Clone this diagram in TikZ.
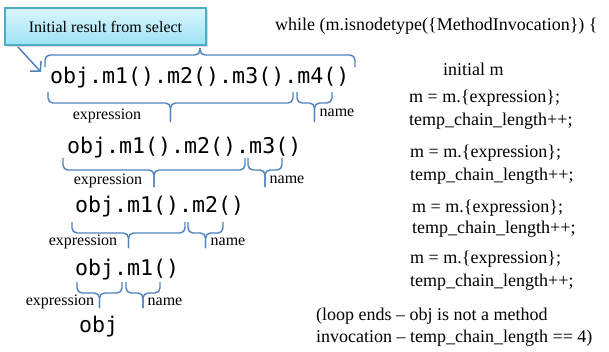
\documentclass[tikz,border=0pt]{standalone}
\usepackage{fontspec}
\setmainfont{Liberation Serif}
\setmonofont{DejaVu Sans Mono}
\usetikzlibrary{arrows.meta,shadows}
\definecolor{braceblue}{RGB}{79,129,189}
\definecolor{calloutedge}{RGB}{75,172,198}
\definecolor{callouttop}{RGB}{218,246,253}
\definecolor{calloutbot}{RGB}{158,226,245}
\tikzset{
  bracepen/.style={draw=braceblue, line width=1.4pt, rounded corners=5pt},
  code/.style={font=\fontsize{21.6}{24}\ttfamily, inner sep=0pt, anchor=base west},
  lbl/.style={font=\fontsize{16}{18}\selectfont, inner sep=0pt, anchor=mid},
  stmt/.style={font=\fontsize{18}{20}\selectfont, inner sep=0pt, anchor=mid west},
}
\newcommand{\codebrace}[5]{%
  \draw[bracepen] (#1,#3) |- ({(#1+#2)/2},#4) -- ({(#1+#2)/2},#5);
  \draw[bracepen] (#2,#3) |- ({(#1+#2)/2},#4) -- ({(#1+#2)/2},#5);}
\begin{document}
\begin{tikzpicture}[x=1pt,y=-1pt]
\useasboundingbox (0,0) rectangle (609,351);
\node[draw=calloutedge, line width=1.2pt, top color=callouttop, bottom color=calloutbot,
  drop shadow={opacity=0.3, shadow xshift=2pt, shadow yshift=-2pt},
  minimum width=201pt, minimum height=37pt, inner sep=0pt,
  font=\fontsize{16}{18}\selectfont] (callout) at (105.5,26.5) {Initial result from select};
\coordinate (ptail) at (18,47);
\coordinate (phead) at (41,72);
\draw[braceblue, line width=1.5pt, -{Straight Barb[length=7pt,width=15pt]}] (ptail) -- (phead);
\node[code] (c1) at (50,83) {obj.m1().m2().m3().m4()};
\node[code] (c2) at (67,153) {obj.m1().m2().m3()};
\node[code] (c3) at (75,212) {obj.m1().m2()};
\node[code] (c4) at (75,275) {obj.m1()};
\node[code] (c5) at (79,332) {obj};
\codebrace{45}{355}{67}{55}{48}
\codebrace{48}{293}{92}{103}{122}
\codebrace{297}{332}{92}{103}{122}
\codebrace{63}{245}{158}{170}{187}
\codebrace{248}{282}{158}{170}{187}
\codebrace{72}{185}{222}{233}{248}
\codebrace{188}{223}{222}{233}{248}
\codebrace{77}{122}{282}{293}{308}
\codebrace{126}{160}{282}{293}{308}
\node[lbl] (e1) at (107,117) {expression};
\node[lbl] (n1) at (337,114) {name};
\node[lbl] (e2) at (108,182) {expression};
\node[lbl] (n2) at (287,181) {name};
\node[lbl] (e3) at (83,243) {expression};
\node[lbl] (n3) at (228,243) {name};
\node[lbl] (e4) at (60,303) {expression};
\node[lbl] (n4) at (165,303) {name};
\node[stmt] (w) at (275,28) {while (m.isnodetype(\{MethodInvocation\}) \{};
\node[stmt] (init) at (443,73) {initial m};
\node[stmt] (s1) at (409,100) {m = m.\{expression\};};
\node[stmt] (t1) at (409,123) {temp\_chain\_length++;};
\node[stmt] (s2) at (410,155) {m = m.\{expression\};};
\node[stmt] (t2) at (410,178) {temp\_chain\_length++;};
\node[stmt] (s3) at (412,210) {m = m.\{expression\};};
\node[stmt] (t3) at (412,231) {temp\_chain\_length++;};
\node[stmt] (s4) at (410,261) {m = m.\{expression\};};
\node[stmt] (t4) at (410,284) {temp\_chain\_length++;};
\node[stmt] (end1) at (316,318) {(loop ends – obj is not a method};
\node[stmt] (end2) at (316,340) {invocation – temp\_chain\_length == 4)};
\end{tikzpicture}
\end{document}
